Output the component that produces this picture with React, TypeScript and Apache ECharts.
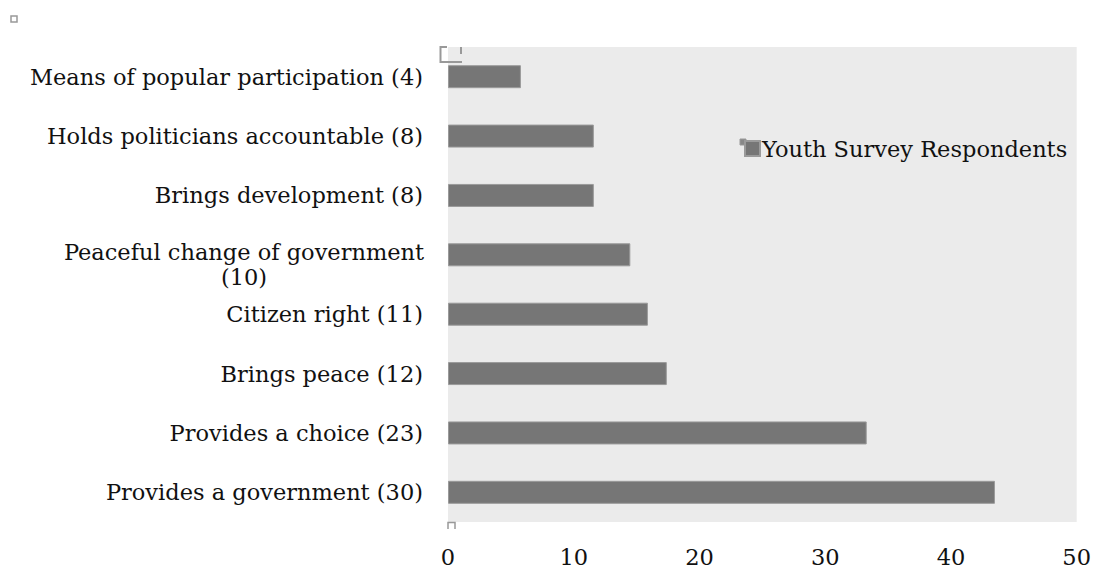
import React, { useEffect, useRef } from "react";
import * as echarts from "echarts";

const categories: string[] = [
  "Means of popular participation (4)",
  "Holds politicians accountable (8)",
  "Brings development (8)",
  "Peaceful change of government\n(10)",
  "Citizen right (11)",
  "Brings peace (12)",
  "Provides a choice (23)",
  "Provides a government (30)",
];
const values: number[] = [5.8, 11.6, 11.6, 14.5, 15.9, 17.4, 33.3, 43.5];
const seriesName = "Youth Survey Respondents";
const xMin = 0;
const xMax = 50;
const xInterval = 10;

const FONT = "DejaVu Serif";
const FS = 22.5;

export default function App() {
  const ref = useRef<HTMLDivElement>(null);
  useEffect(() => {
    if (!ref.current) return;
    const chart = echarts.init(ref.current, null, { renderer: "svg" });
    chart.setOption({
      animation: false,
      backgroundColor: "#ffffff",
      textStyle: { fontFamily: FONT, color: "#111" },
      grid: {
        left: 448,
        right: 16,
        top: 47,
        bottom: 46,
        show: true,
        backgroundColor: "#ebebeb",
        borderWidth: 0,
      },
      legend: {
        show: true,
        left: 739,
        top: 132,
        itemWidth: 15,
        itemHeight: 15,
        itemGap: 0,
        icon: "rect",
        textStyle: { fontFamily: FONT, fontSize: FS, color: "#111", padding: [0, 0, 0, -3] },
        data: [seriesName],
      },
      xAxis: {
        type: "value",
        min: xMin,
        max: xMax,
        interval: xInterval,
        axisLine: { show: false },
        axisTick: { show: false },
        splitLine: { show: false },
        axisLabel: { fontFamily: FONT, fontSize: FS, color: "#111", margin: 23 },
      },
      yAxis: {
        type: "category",
        inverse: true,
        data: categories,
        axisLine: { show: false },
        axisTick: { show: false },
        splitLine: { show: false },
        axisLabel: {
          fontFamily: FONT,
          fontSize: FS,
          color: "#111",
          margin: 25,
          align: "right",
          formatter: (v: string) => {
            if (v.indexOf("\n") >= 0) {
              const parts = v.split("\n");
              return "{e| }\n" + parts.map((p) => "{c|" + p + "}").join("\n");
            }
            return v;
          },
          rich: {
            e: { fontSize: 4, lineHeight: 20 },
            c: { fontFamily: FONT, fontSize: FS, color: "#111", width: 358, align: "center", lineHeight: 25 },
          },
        },
      },
      series: [
        {
          name: seriesName,
          type: "bar",
          data: values,
          barWidth: 23,
          itemStyle: { color: "#767676", borderColor: "#9a9a9a", borderWidth: 1 },
        },
      ],
      graphic: [
        { type: "rect", shape: { x: 11, y: 16, width: 6, height: 6 }, style: { fill: "none", stroke: "#999", lineWidth: 1.5 } },
        { type: "polyline", shape: { points: [[447, 47], [440.5, 47], [440.5, 62], [462, 62]] }, style: { fill: "none", stroke: "#999", lineWidth: 2 } },
        { type: "line", shape: { x1: 461, y1: 47, x2: 461, y2: 54 }, style: { stroke: "#999", lineWidth: 2 } },
        { type: "polyline", shape: { points: [[448, 529], [448, 522.5], [455, 522.5], [455, 529]] }, style: { fill: "none", stroke: "#999", lineWidth: 1.5 } },
        { type: "rect", shape: { x: 740, y: 139, width: 6, height: 6 }, style: { fill: "#888", stroke: "#999", lineWidth: 1 } },
      ],
    });
    return () => chart.dispose();
  }, []);
  return (
    <div
      ref={ref}
      style={{ position: "fixed", left: 0, top: 0, width: 1094, height: 568 }}
    />
  );
}
